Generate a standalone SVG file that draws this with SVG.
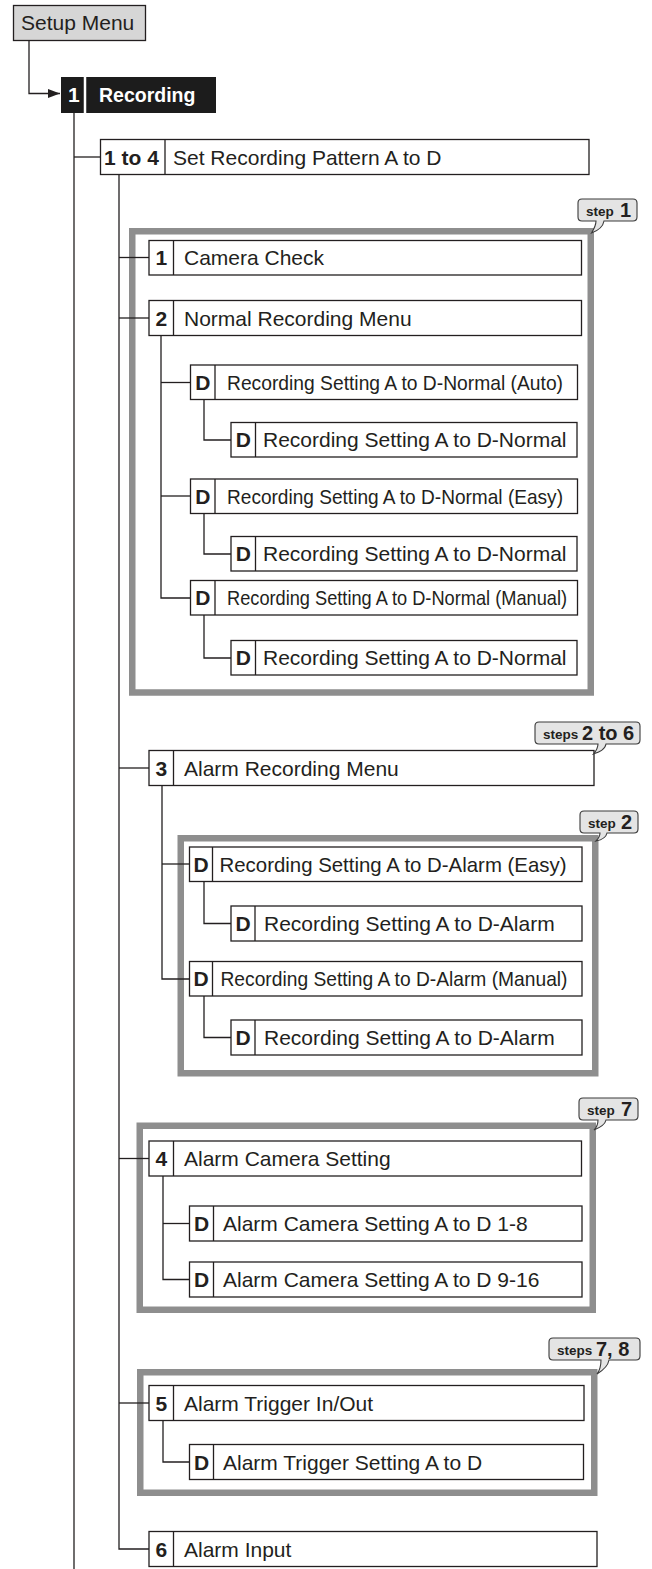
<svg xmlns="http://www.w3.org/2000/svg" width="652" height="1569" viewBox="0 0 652 1569">
<defs>
<style>
.box{fill:#fff;stroke:#231f20;stroke-width:1.3}
.sep{stroke:#231f20;stroke-width:1.3}
.conn{fill:none;stroke:#231f20;stroke-width:1.3}
.frame{fill:none;stroke:#8e8e8e;stroke-width:6.5}
.t{font-family:'Liberation Sans',Arial,Helvetica,sans-serif;font-size:21px;fill:#231f20}
.n{font-weight:bold;text-anchor:middle}
.w{fill:#fff;font-weight:bold}
.call{fill:#e4e4e4;stroke:#3a3a3a;stroke-width:1.1}
.cs{font-family:'Liberation Sans',Arial,sans-serif;font-weight:bold;font-size:13.5px;fill:#231f20}
.cb{font-family:'Liberation Sans',Arial,sans-serif;font-weight:bold;font-size:20px;fill:#231f20}
</style>
<marker id="arr" markerUnits="userSpaceOnUse" markerWidth="13" markerHeight="10" refX="12" refY="5" orient="auto"><path d="M0,0.5 L12,5 L0,9.5 Z" fill="#231f20"/></marker>
</defs>
<rect width="652" height="1569" fill="#fff"/>

<g id="frames">
<rect class="frame" x="132.25" y="231.25" width="458.5" height="461.25"/>
<rect class="frame" x="180.75" y="838.25" width="414.5" height="235"/>
<rect class="frame" x="139.75" y="1125.75" width="453" height="184"/>
<rect class="frame" x="140.25" y="1372.25" width="454" height="120.5"/>
</g>

<g id="connectors">
<path class="conn" d="M29,40.5 V93.5 H60" marker-end="url(#arr)"/>
<path class="conn" d="M74,113 V1569"/>
<path class="conn" d="M74,157 H100.5"/>
<path class="conn" d="M119,174.5 V1549 H149"/>
<path class="conn" d="M119,257.5 H149"/>
<path class="conn" d="M119,318 H149"/>
<path class="conn" d="M161,335.5 V598 H190.5"/>
<path class="conn" d="M161,382.5 H190.5"/>
<path class="conn" d="M204,399.5 V440 H231"/>
<path class="conn" d="M161,496 H190.5"/>
<path class="conn" d="M204,513.5 V554 H231"/>
<path class="conn" d="M204,615 V658 H231"/>
<path class="conn" d="M119,768 H149"/>
<path class="conn" d="M162,785.5 V979 H189.5"/>
<path class="conn" d="M162,864 H189.5"/>
<path class="conn" d="M204,881.5 V923.5 H231"/>
<path class="conn" d="M204,996 V1037.5 H231"/>
<path class="conn" d="M119,1158.5 H149"/>
<path class="conn" d="M163,1176 V1279.5 H189.5"/>
<path class="conn" d="M163,1223.5 H189.5"/>
<path class="conn" d="M119,1403 H149"/>
<path class="conn" d="M163,1420.5 V1462 H189.5"/>
</g>

<g id="setup-menu"><rect x="13.5" y="5.5" width="132" height="35" fill="#d6d6d6" stroke="#231f20" stroke-width="1.3"/><text class="t" x="21" y="30">Setup Menu</text></g>

<g id="recording"><rect x="61" y="77" width="155" height="36" fill="#1c1c1c"/><line x1="85" y1="77" x2="85" y2="113" stroke="#fff" stroke-width="2.5"/><text class="t w" x="68" y="102">1</text><text class="t w" x="99" y="102" style="font-size:19.5px">Recording</text></g>

<g id="n-1to4"><rect class="box" x="100.5" y="139.5" width="488.5" height="35"/><line class="sep" x1="165" y1="139.5" x2="165" y2="174.5"/><text class="t" x="104" y="164.5" font-weight="bold">1 to 4</text><text class="t" x="173" y="164.5">Set Recording Pattern A to D</text></g>

<g id="n-camera-check"><rect class="box" x="149" y="240.5" width="432.5" height="34.5"/><line class="sep" x1="173.5" y1="240.5" x2="173.5" y2="275"/><text class="t n" x="161.25" y="265">1</text><text class="t" x="184" y="265">Camera Check</text></g>

<g id="n-normal-menu"><rect class="box" x="149" y="300.5" width="432.5" height="35"/><line class="sep" x1="173.5" y1="300.5" x2="173.5" y2="335.5"/><text class="t n" x="161.25" y="325.5">2</text><text class="t" x="184" y="325.5">Normal Recording Menu</text></g>

<g id="n-normal-auto"><rect class="box" x="190.5" y="365" width="387" height="34.5"/><line class="sep" x1="215" y1="365" x2="215" y2="399.5"/><text class="t n" x="202.75" y="389.5">D</text><text class="t" x="227" y="389.5" textLength="336" lengthAdjust="spacingAndGlyphs">Recording Setting A to D-Normal (Auto)</text></g>
<g id="n-normal-auto-sub"><rect class="box" x="231" y="422.5" width="346" height="34.5"/><line class="sep" x1="255.5" y1="422.5" x2="255.5" y2="457"/><text class="t n" x="243.25" y="447">D</text><text class="t" x="263" y="447">Recording Setting A to D-Normal</text></g>

<g id="n-normal-easy"><rect class="box" x="190.5" y="479" width="387" height="34.5"/><line class="sep" x1="215" y1="479" x2="215" y2="513.5"/><text class="t n" x="202.75" y="503.5">D</text><text class="t" x="227" y="503.5" textLength="336" lengthAdjust="spacingAndGlyphs">Recording Setting A to D-Normal (Easy)</text></g>
<g id="n-normal-easy-sub"><rect class="box" x="231" y="536.5" width="346" height="34.5"/><line class="sep" x1="255.5" y1="536.5" x2="255.5" y2="571"/><text class="t n" x="243.25" y="561">D</text><text class="t" x="263" y="561">Recording Setting A to D-Normal</text></g>

<g id="n-normal-manual"><rect class="box" x="190.5" y="580.5" width="387" height="34.5"/><line class="sep" x1="215" y1="580.5" x2="215" y2="615"/><text class="t n" x="202.75" y="605">D</text><text class="t" x="227" y="605" textLength="340" lengthAdjust="spacingAndGlyphs">Recording Setting A to D-Normal (Manual)</text></g>
<g id="n-normal-manual-sub"><rect class="box" x="231" y="640.5" width="346" height="34.5"/><line class="sep" x1="255.5" y1="640.5" x2="255.5" y2="675"/><text class="t n" x="243.25" y="665">D</text><text class="t" x="263" y="665">Recording Setting A to D-Normal</text></g>

<g id="n-alarm-menu"><rect class="box" x="149" y="750.5" width="445" height="35"/><line class="sep" x1="173.5" y1="750.5" x2="173.5" y2="785.5"/><text class="t n" x="161.25" y="775.5">3</text><text class="t" x="184" y="775.5">Alarm Recording Menu</text></g>

<g id="n-alarm-easy"><rect class="box" x="189.5" y="847" width="392.5" height="34.5"/><line class="sep" x1="212.5" y1="847" x2="212.5" y2="881.5"/><text class="t n" x="201" y="871.5">D</text><text class="t" x="219.5" y="871.5" textLength="347" lengthAdjust="spacingAndGlyphs">Recording Setting A to D-Alarm (Easy)</text></g>
<g id="n-alarm-easy-sub"><rect class="box" x="231" y="906" width="351" height="35"/><line class="sep" x1="255" y1="906" x2="255" y2="941"/><text class="t n" x="243" y="931">D</text><text class="t" x="264" y="931">Recording Setting A to D-Alarm</text></g>

<g id="n-alarm-manual"><rect class="box" x="189.5" y="961.5" width="392.5" height="34.5"/><line class="sep" x1="212.5" y1="961.5" x2="212.5" y2="996"/><text class="t n" x="201" y="986">D</text><text class="t" x="220.5" y="986" textLength="347" lengthAdjust="spacingAndGlyphs">Recording Setting A to D-Alarm (Manual)</text></g>
<g id="n-alarm-manual-sub"><rect class="box" x="231" y="1020" width="351" height="35"/><line class="sep" x1="255" y1="1020" x2="255" y2="1055"/><text class="t n" x="243" y="1045">D</text><text class="t" x="264" y="1045">Recording Setting A to D-Alarm</text></g>

<g id="n-alarm-camera"><rect class="box" x="149" y="1141" width="432.5" height="35"/><line class="sep" x1="173.5" y1="1141" x2="173.5" y2="1176"/><text class="t n" x="161.25" y="1166">4</text><text class="t" x="184" y="1166">Alarm Camera Setting</text></g>
<g id="n-alarm-camera-1-8"><rect class="box" x="189.5" y="1206" width="392.5" height="35"/><line class="sep" x1="213.5" y1="1206" x2="213.5" y2="1241"/><text class="t n" x="201.5" y="1231">D</text><text class="t" x="223" y="1231">Alarm Camera Setting A to D 1-8</text></g>
<g id="n-alarm-camera-9-16"><rect class="box" x="189.5" y="1262" width="392.5" height="35"/><line class="sep" x1="213.5" y1="1262" x2="213.5" y2="1297"/><text class="t n" x="201.5" y="1287">D</text><text class="t" x="223" y="1287">Alarm Camera Setting A to D 9-16</text></g>

<g id="n-alarm-trigger"><rect class="box" x="149" y="1385.5" width="435" height="35"/><line class="sep" x1="173.5" y1="1385.5" x2="173.5" y2="1420.5"/><text class="t n" x="161.25" y="1410.5">5</text><text class="t" x="184" y="1410.5">Alarm Trigger In/Out</text></g>
<g id="n-alarm-trigger-setting"><rect class="box" x="189.5" y="1444.5" width="394" height="35"/><line class="sep" x1="213.5" y1="1444.5" x2="213.5" y2="1479.5"/><text class="t n" x="201.5" y="1469.5">D</text><text class="t" x="223" y="1469.5">Alarm Trigger Setting A to D</text></g>

<g id="n-alarm-input"><rect class="box" x="149" y="1531.5" width="448" height="35"/><line class="sep" x1="173.5" y1="1531.5" x2="173.5" y2="1566.5"/><text class="t n" x="161.25" y="1556.5">6</text><text class="t" x="184" y="1556.5">Alarm Input</text></g>

<g id="callout-step1"><path class="call" d="M582,199 H633 Q637,199 637,203 V217 Q637,221 633,221 H604 C603,227 597,231 591.5,233 C594,229 596,225 596,221 H582 Q578,221 578,217 V203 Q578,199 582,199 Z"/><text class="cs" x="586" y="215.5">step</text><text class="cb" x="620" y="216.5">1</text></g>

<g id="callout-steps2-6"><path class="call" d="M539,722 H636 Q640,722 640,726 V740 Q640,744 636,744 H606 C605,750 599,752 593.5,754 C596,751 598,748 598,744 H539 Q535,744 535,740 V726 Q535,722 539,722 Z"/><text class="cs" x="543" y="738.5">steps</text><text class="cb" x="582" y="739.5">2 to 6</text></g>

<g id="callout-step2"><path class="call" d="M584,811 H634 Q638,811 638,815 V829 Q638,833 634,833 H607 C606,838 601,840 596,841 C598,839 600,836 600,833 H584 Q580,833 580,829 V815 Q580,811 584,811 Z"/><text class="cs" x="588" y="827.5">step</text><text class="cb" x="621" y="828.5">2</text></g>

<g id="callout-step7"><path class="call" d="M583,1098 H634 Q638,1098 638,1102 V1116 Q638,1120 634,1120 H606 C605,1125 599,1128 594,1130 C597,1127 598,1123 598,1120 H583 Q579,1120 579,1116 V1102 Q579,1098 583,1098 Z"/><text class="cs" x="587" y="1114.5">step</text><text class="cb" x="621" y="1115.5">7</text></g>

<g id="callout-steps7-8"><path class="call" d="M553,1338 H636 Q640,1338 640,1342 V1356 Q640,1360 636,1360 H609 C608,1366 602,1371 597,1374 C600,1370 601,1364 601,1360 H553 Q549,1360 549,1356 V1342 Q549,1338 553,1338 Z"/><text class="cs" x="557" y="1354.5">steps</text><text class="cb" x="596" y="1355.5">7, 8</text></g>
</svg>
